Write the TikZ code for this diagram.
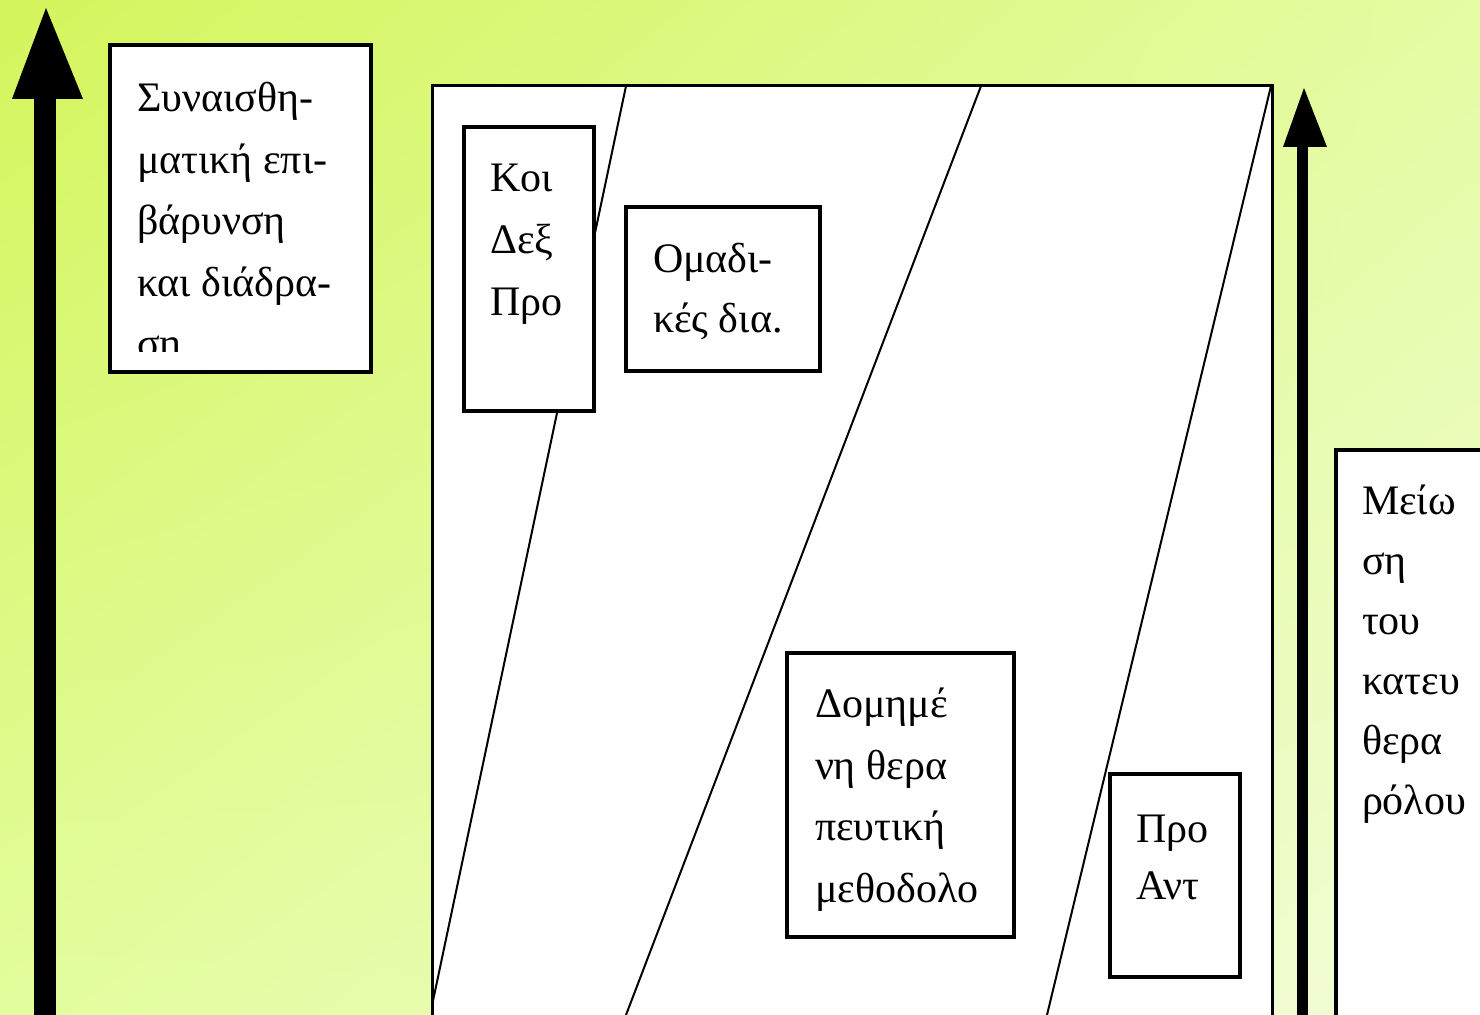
\documentclass[tikz,border=0pt]{standalone}
\usepackage{fontspec}
\setmainfont{Liberation Serif}
\usetikzlibrary{fit,shadings}
\definecolor{bgUL}{RGB}{212,245,92}
\definecolor{bgUR}{RGB}{228,252,162}
\definecolor{bgLL}{RGB}{226,253,156}
\definecolor{bgLR}{RGB}{242,252,216}
\newcommand\gtxt[2][30.75pt]{\vtop{\baselineskip=#1\lineskiplimit=-100pt\lineskip=0pt\halign{##\hfil\cr#2\crcr}}}
\tikzset{
  box/.style={draw=black, line width=1.75pt, fill=white, inner sep=0pt, outer sep=0pt},
  framebox/.style={draw=black, line width=1.5pt, fill=white, inner sep=0pt, outer sep=0pt},
  gtext/.style={anchor=base west, inner sep=0pt, outer sep=0pt, font=\fontsize{21pt}{30.75pt}\selectfont},
  slant/.style={line width=1pt, black},
  bigarrow/.style={fill=black}
}
\begin{document}
\begin{tikzpicture}[x=0.5pt,y=-0.5pt]
\useasboundingbox (0,0) rectangle (1480,1015);
\clip (0,0) rectangle (1480,1015);
% background
\shade[upper left=bgUL, upper right=bgUR, lower left=bgLL, lower right=bgLR] (0,0) rectangle (1480,1015);

% left arrow
\coordinate (laTip) at (46,8);
\fill[bigarrow] (34,97) rectangle (56,1020);
\fill[bigarrow] (12,99) -- (laTip) -- (83,99) -- cycle;

% right arrow
\coordinate (raTip) at (1304,88);
\fill[bigarrow] (1297,145) rectangle (1308,1020);
\fill[bigarrow] (1283,147) -- (raTip) -- (1327,147) -- cycle;

% left label box
\node[box, fit={(110,45) (371,372)}] (emo) {};
\begin{scope}
  \clip (110,45) rectangle (371,352);
  \node[gtext] (emotxt) at (137,112) {\gtxt{Συναισθη-\cr ματική επι-\cr βάρυνση\cr και διάδρα-\cr ση}};
\end{scope}

% main frame
\node[framebox, fit={(432,86) (1272,1040)}] (frame) {};

% slanted dividing lines
\coordinate (s1a) at (626,86);  \coordinate (s1b) at (430,1015);
\coordinate (s2a) at (981,86);  \coordinate (s2b) at (626,1015);
\coordinate (s3a) at (1271,86); \coordinate (s3b) at (1047,1015);
\begin{scope}
  \clip (433,87) rectangle (1271,1015);
  \draw[slant] (s1a) -- (s1b);
  \draw[slant] (s2a) -- (s2b);
  \draw[slant] (s3a) -- (s3b);
\end{scope}

% inner boxes
\node[box, fit={(464,127) (594,411)}] (koi) {};
\node[gtext] (koitxt) at (490,192) {\gtxt[31pt]{Κοι\cr Δεξ\cr Προ}};

\node[box, fit={(626,207) (820,371)}] (omad) {};
\node[gtext] (omadtxt) at (653,273) {\gtxt[30pt]{Ομαδι-\cr κές δια.}};

\node[box, fit={(787,653) (1014,937)}] (dom) {};
\node[gtext] (domtxt) at (815,718) {\gtxt[30.75pt]{Δομημέ\cr νη θερα\cr πευτική\cr μεθοδολο}};

\node[box, fit={(1110,774) (1240,977)}] (proant) {};
\node[gtext] (proanttxt) at (1136,843) {\gtxt[28.5pt]{Προ\cr Αντ}};

% right label box
\node[box, fit={(1336,450) (1500,1040)}] (meio) {};
\node[gtext] (meiotxt) at (1362,515) {\gtxt[30pt]{Μείω\cr ση\cr του\cr κατευ\cr θερα\cr ρόλου}};
\end{tikzpicture}
\end{document}
